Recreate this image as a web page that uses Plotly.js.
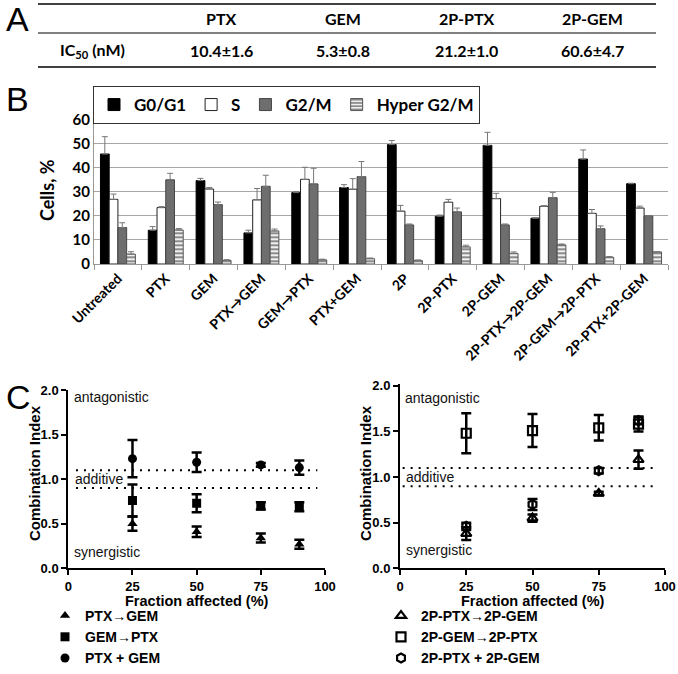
<!DOCTYPE html>
<html><head><meta charset="utf-8">
<script src="https://cdn.plot.ly/plotly-3.0.1.min.js"></script>
<style>html,body{margin:0;padding:0;background:#fff}#chart{width:678px;height:674px}</style>
</head><body><div id="chart"></div>
<script>
// ---------- Panel A: IC50 table ----------
const drugs = ['PTX', 'GEM', '2P-PTX', '2P-GEM'];
const ic50 = ['10.4±1.6', '5.3±0.8', '21.2±1.0', '60.6±4.7'];

// ---------- Panel B: cell cycle ----------
const categories = ['Untreated','PTX','GEM','PTX→GEM','GEM→PTX','PTX+GEM','2P','2P-PTX','2P-GEM','2P-PTX→2P-GEM','2P-GEM→2P-PTX','2P-PTX+2P-GEM'];
const g0g1     = [45.6,14.0,34.6,12.9,29.6,31.7,49.5,19.8,49.2,19.0,43.5,33.3];
const g0g1Err  = [7.2,1.5,0.9,1.1,0.4,1.2,1.7,0.5,5.4,0.2,3.8,0.2];
const sPhase   = [26.8,23.4,31.1,26.6,35.1,31.0,21.9,25.6,27.1,23.9,21.0,23.2];
const sErr     = [2.2,0.4,0.6,4.7,5.0,4.4,2.4,1.2,2.2,0.3,1.6,0.8];
const g2m      = [15.1,34.9,24.6,32.2,33.2,36.2,16.2,21.6,16.2,27.5,14.6,19.9];
const g2mErr   = [2.0,2.7,1.1,4.6,6.5,6.3,0.4,1.6,0.4,2.2,1.2,0];
const hyper    = [4.1,14.1,1.5,13.7,1.7,2.2,1.4,7.1,4.4,7.9,2.8,5.0];
const hyperErr = [1.0,0.6,0.3,0.8,0.3,0.3,0.3,0.7,0.6,0.4,0.3,0];

// ---------- Panel C: combination index ----------
const fa = [25, 50, 75, 90];
const ptxToGem      = [0.50, 0.41, 0.34, 0.27];
const ptxToGemErr   = [0.08, 0.06, 0.05, 0.05];
const gemToPtx      = [0.76, 0.73, 0.70, 0.69];
const gemToPtxErr   = [0.18, 0.10, 0.04, 0.05];
const ptxPlusGem    = [1.23, 1.19, 1.16, 1.13];
const ptxPlusGemErr = [0.21, 0.11, 0.02, 0.08];
const p2ToG2        = [0.38, 0.55, 0.82, 1.19];
const p2ToG2Err     = [0.07, 0.04, 0.02, 0.10];
const g2ToP2        = [1.48, 1.51, 1.54, 1.58];
const g2ToP2Err     = [0.22, 0.18, 0.14, 0.08];
const p2PlusG2      = [0.46, 0.70, 1.07, 1.62];
const p2PlusG2Err   = [0.04, 0.06, 0.03, 0.04];
const additiveBand  = [0.9, 1.1];

const zeros = categories.map(() => 0);
const calib = 'Lato, "Open Sans", sans-serif';
const arial = '"Liberation Sans", Arial, sans-serif';

function barErr(arr) {
  return {type: 'data', symmetric: false, array: arr, arrayminus: zeros,
          color: '#777', thickness: 1, width: 3};
}

const traces = [
  {type: 'bar', name: 'G0/G1', x: categories, y: g0g1, error_y: barErr(g0g1Err),
   marker: {color: '#000', line: {color: '#000', width: 1}}, xaxis: 'x', yaxis: 'y', legend: 'legend'},
  {type: 'bar', name: 'S', x: categories, y: sPhase, error_y: barErr(sErr),
   marker: {color: '#fff', line: {color: '#222', width: 1}}, xaxis: 'x', yaxis: 'y', legend: 'legend'},
  {type: 'bar', name: 'G2/M', x: categories, y: g2m, error_y: barErr(g2mErr),
   marker: {color: '#6e6e6e', line: {color: '#444', width: 1}}, xaxis: 'x', yaxis: 'y', legend: 'legend'},
  {type: 'bar', name: 'Hyper G2/M', x: categories, y: hyper, error_y: barErr(hyperErr),
   marker: {color: '#eeeeee', line: {color: '#555', width: 1},
            pattern: {shape: '-', fgcolor: '#808080', bgcolor: '#f0f0f0', size: 4, solidity: 0.45}},
   xaxis: 'x', yaxis: 'y', legend: 'legend'}
];

function ciTrace(name, y, err, symbol, ax, leg, open) {
  return {type: 'scatter', mode: 'markers', name: name, x: fa, y: y,
    error_y: {type: 'data', array: err, color: '#000', thickness: 2.5, width: 5},
    marker: {symbol: symbol, size: 9, color: '#000',
             line: {color: '#000', width: open ? 2.2 : 0}},
    xaxis: 'x' + ax, yaxis: 'y' + ax, legend: leg};
}
traces.push(ciTrace('PTX→GEM', ptxToGem, ptxToGemErr, 'triangle-up', 2, 'legend2', false));
traces.push(ciTrace('GEM→PTX', gemToPtx, gemToPtxErr, 'square', 2, 'legend2', false));
traces.push(ciTrace('PTX + GEM', ptxPlusGem, ptxPlusGemErr, 'circle', 2, 'legend2', false));
traces.push(ciTrace('2P-PTX→2P-GEM', p2ToG2, p2ToG2Err, 'triangle-up-open', 3, 'legend3', true));
traces.push(ciTrace('2P-GEM→2P-PTX', g2ToP2, g2ToP2Err, 'square-open', 3, 'legend3', true));
traces.push(ciTrace('2P-PTX + 2P-GEM', p2PlusG2, p2PlusG2Err, 'hexagon-open', 3, 'legend3', true));

const W = 678, H = 674;
const px = v => v / W, py = v => 1 - v / H;

const annotations = [];
function ann(text, x, y, opts) {
  annotations.push(Object.assign({text: text, x: x, y: y, xref: 'paper', yref: 'paper',
    showarrow: false, xanchor: 'center', yanchor: 'middle'}, opts || {}));
}
// Panel letters
ann('A', px(4), py(19), {xanchor: 'left', font: {family: arial, size: 34, color: '#000'}});
ann('B', px(4), py(99), {xanchor: 'left', font: {family: arial, size: 34, color: '#000'}});
ann('C', px(4), py(397), {xanchor: 'left', font: {family: arial, size: 34, color: '#000'}});
// Table
const colX = [221, 343, 466, 592];
drugs.forEach((d, i) => ann(d, px(colX[i]), py(18), {font: {family: calib, size: 16, color: '#000', weight: 'bold'}}));
ic50.forEach((v, i) => ann(v, px(colX[i]), py(50), {font: {family: calib, size: 16, color: '#000', weight: 'bold'}}));
ann('IC<sub>50</sub> (nM)', px(58), py(50), {xanchor: 'left', font: {family: calib, size: 16, color: '#000', weight: 'bold'}});
// Axis titles
ann('Cells, %', px(47), py(190), {textangle: -90, font: {family: calib, size: 18, color: '#000', weight: 'bold'}});
ann('Combination Index', px(34), py(473), {textangle: -90, font: {family: arial, size: 15, color: '#000', weight: 'bold'}});
ann('Combination Index', px(365), py(473), {textangle: -90, font: {family: arial, size: 15, color: '#000', weight: 'bold'}});
ann('Fraction affected (%)', px(197), py(601), {font: {family: arial, size: 14.5, color: '#000', weight: 'bold'}});
ann('Fraction affected (%)', px(533), py(601), {font: {family: arial, size: 14.5, color: '#000', weight: 'bold'}});
// Region labels
const regFont = {family: arial, size: 14, color: '#111'};
ann('antagonistic', px(72), py(397), {xanchor: 'left', font: regFont});
ann('additive', px(73), py(479), {xanchor: 'left', font: regFont});
ann('synergistic', px(72), py(552), {xanchor: 'left', font: regFont});
ann('antagonistic', px(403), py(398), {xanchor: 'left', font: regFont});
ann('additive', px(404), py(477), {xanchor: 'left', font: regFont});
ann('synergistic', px(404), py(550), {xanchor: 'left', font: regFont});

const shapes = [
  {type: 'line', xref: 'paper', yref: 'paper', x0: px(38), x1: px(656), y0: py(4), y1: py(4), line: {color: '#000', width: 1.5}},
  {type: 'line', xref: 'paper', yref: 'paper', x0: px(38), x1: px(656), y0: py(33), y1: py(33), line: {color: '#000', width: 1}},
  {type: 'line', xref: 'paper', yref: 'paper', x0: px(38), x1: px(656), y0: py(67), y1: py(67), line: {color: '#000', width: 1.5}}
];
additiveBand.forEach(v => {
  shapes.push({type: 'line', xref: 'x2', yref: 'y2', x0: 3, x1: 97, y0: v, y1: v, line: {color: '#000', width: 2, dash: '2px,6px'}});
  shapes.push({type: 'line', xref: 'x3', yref: 'y3', x0: 1, x1: 97, y0: v, y1: v, line: {color: '#000', width: 2, dash: '2px,6px'}});
});

const cTick = {family: arial, size: 13, color: '#000', weight: 'bold'};
function cx(domain, anchor) {
  return {domain: domain, anchor: anchor, range: [0, 100], tickvals: [0, 25, 50, 75, 100],
    ticks: 'outside', ticklen: 5, tickwidth: 2, tickcolor: '#000', showline: true, linecolor: '#000', linewidth: 2,
    showgrid: false, zeroline: false, tickfont: cTick, fixedrange: true};
}
function cy(domain, anchor, top) {
  return {domain: domain, anchor: anchor, range: [0, top], tickvals: [0, 0.5, 1, 1.5, 2], tickformat: '.1f',
    ticks: 'outside', ticklen: 5, tickwidth: 2, tickcolor: '#000', showline: true, linecolor: '#000', linewidth: 2,
    showgrid: false, zeroline: false, tickfont: cTick, fixedrange: true};
}

const layout = {
  width: W, height: H, margin: {l: 0, r: 0, t: 0, b: 0},
  paper_bgcolor: '#fff', plot_bgcolor: 'rgba(0,0,0,0)',
  showlegend: true, barmode: 'group', bargap: 0.27, bargroupgap: 0,
  xaxis: {domain: [px(94), px(668)], anchor: 'y', type: 'category', tickangle: -45,
    ticks: 'outside', tickson: 'boundaries', ticklen: 5, tickcolor: '#999', showline: true, linecolor: '#999',
    tickfont: {family: calib, size: 14, color: '#000', weight: 'bold'}, fixedrange: true},
  yaxis: {domain: [py(264), py(119.3)], anchor: 'x', range: [0, 60], dtick: 10, showgrid: true, gridcolor: '#a6a6a6',
    showline: true, linecolor: '#999', zeroline: false, ticks: '',
    tickfont: {family: calib, size: 15, color: '#000', weight: 'bold'}, fixedrange: true},
  xaxis2: cx([px(68.3), px(325)], 'y2'),
  yaxis2: cy([py(568.3), py(390)], 'x2', 2),
  xaxis3: cx([px(400), px(665)], 'y3'),
  yaxis3: cy([py(568.3), py(384)], 'x3', 2.02),
  legend: {x: px(93), y: py(86), xanchor: 'left', yanchor: 'top', orientation: 'h',
    bordercolor: '#333', borderwidth: 1, bgcolor: '#fff',
    font: {family: calib, size: 17, color: '#000', weight: 'bold'}},
  legend2: {x: px(45), y: 0, xanchor: 'left', yanchor: 'bottom', orientation: 'v', bgcolor: 'rgba(0,0,0,0)',
    tracegroupgap: 0, font: {family: arial, size: 14, color: '#000', weight: 'bold'}},
  legend3: {x: px(381), y: 0, xanchor: 'left', yanchor: 'bottom', orientation: 'v', bgcolor: 'rgba(0,0,0,0)',
    tracegroupgap: 0, font: {family: arial, size: 14, color: '#000', weight: 'bold'}},
  annotations: annotations,
  shapes: shapes
};

Plotly.newPlot('chart', traces, layout, {displayModeBar: false, staticPlot: true});
</script></body></html>
